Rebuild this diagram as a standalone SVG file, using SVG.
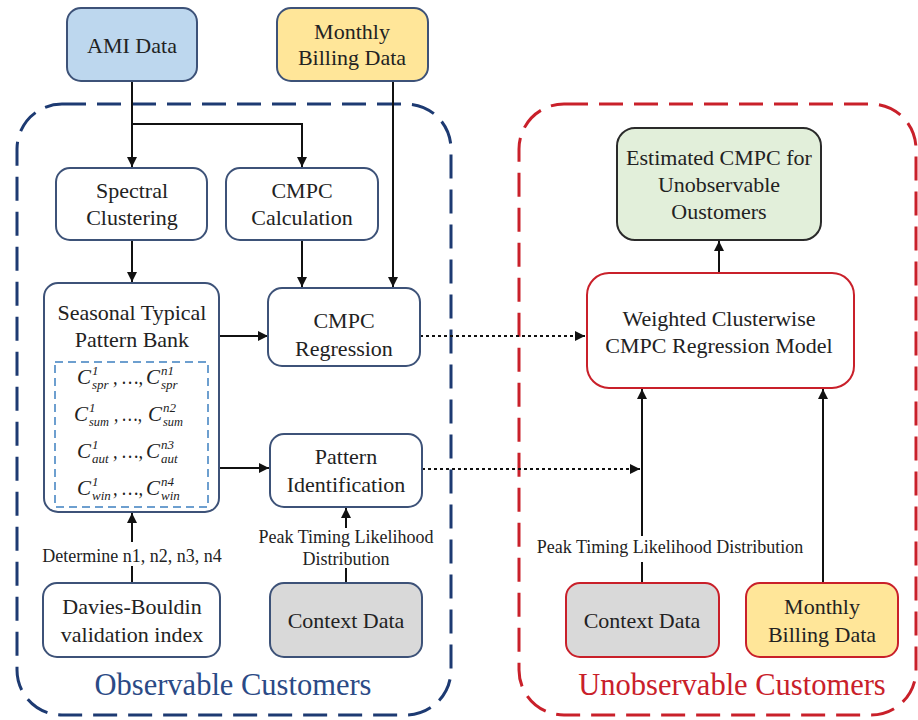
<svg xmlns="http://www.w3.org/2000/svg" width="918" height="720" viewBox="0 0 918 720">
  <style>
    .node { fill: #ffffff; stroke: #3d5278; stroke-width: 2; }
    .rnode { stroke: #c9202a; stroke-width: 2; }
    .lbl { font-family: "Liberation Serif", "Times New Roman", serif; font-size: 22px; fill: #222222; text-anchor: middle; }
    .small { font-family: "Liberation Serif", "Times New Roman", serif; font-size: 18px; fill: #222222; text-anchor: middle; }
    .math { font-family: "Liberation Serif", "Times New Roman", serif; font-style: italic; font-size: 21px; fill: #222222; }
    .scr { font-size: 13px; }
    .wire { fill: none; stroke: #111111; stroke-width: 2; }
    .dot { fill: none; stroke: #111111; stroke-width: 2; stroke-dasharray: 3 3; }
  </style>
  <defs>
    <marker id="arr" viewBox="0 0 10 10" refX="10" refY="5" markerWidth="10" markerHeight="10" markerUnits="userSpaceOnUse" orient="auto">
      <path d="M0,0 L10,5 L0,10 z" fill="#111111"/>
    </marker>
  </defs>

  <rect width="918" height="720" fill="#ffffff"/>

  <!-- group frames -->
  <g id="observable-group">
    <rect x="17" y="104" width="434" height="611" rx="45" fill="none" stroke="#1d3a72" stroke-width="3" stroke-dasharray="24 11"/>
    <text x="233" y="695" text-anchor="middle" font-family="Liberation Serif, serif" font-size="30.5" fill="#2b4a86">Observable Customers</text>
  </g>
  <g id="unobservable-group">
    <rect x="519" y="104" width="397" height="611" rx="45" fill="none" stroke="#c9202a" stroke-width="3" stroke-dasharray="24 11"/>
    <text x="732" y="695" text-anchor="middle" font-family="Liberation Serif, serif" font-size="30.5" fill="#c9202a">Unobservable Customers</text>
  </g>

  <!-- connectors -->
  <g id="connectors">
    <path class="wire" d="M132,81 V167" marker-end="url(#arr)"/>
    <path class="wire" d="M132,124 H302 V167" marker-end="url(#arr)"/>
    <path class="wire" d="M393,81 V287" marker-end="url(#arr)"/>
    <path class="wire" d="M302,240 V287" marker-end="url(#arr)"/>
    <path class="wire" d="M132,240 V282" marker-end="url(#arr)"/>
    <path class="wire" d="M219,336 H268" marker-end="url(#arr)"/>
    <path class="wire" d="M219,468 H269" marker-end="url(#arr)"/>
    <path class="wire" d="M132,583 V566"/>
    <path class="wire" d="M132,542 V513" marker-end="url(#arr)"/>
    <path class="wire" d="M346,583 V568"/>
    <path class="wire" d="M346,528 V508" marker-end="url(#arr)"/>
    <path class="dot" d="M420,336 H585" marker-end="url(#arr)"/>
    <path class="dot" d="M422,469 H640" marker-end="url(#arr)"/>
    <path class="wire" d="M719,273 V241" marker-end="url(#arr)"/>
    <path class="wire" d="M642,583 V562"/>
    <path class="wire" d="M642,536 V389" marker-end="url(#arr)"/>
    <path class="wire" d="M823,583 V389" marker-end="url(#arr)"/>
    <text class="small" x="132" y="562">Determine n1, n2, n3, n4</text>
    <text class="small" x="346" y="543">Peak Timing Likelihood</text>
    <text class="small" x="346" y="565">Distribution</text>
    <text class="small" x="670" y="553">Peak Timing Likelihood Distribution</text>
  </g>

  <!-- nodes -->
  <g id="ami-data">
    <rect class="node" x="67" y="8" width="130" height="73" rx="14" style="fill:#bdd7ee"/>
    <text class="lbl" x="132" y="53">AMI Data</text>
  </g>
  <g id="monthly-billing-obs">
    <rect class="node" x="277" y="8" width="151" height="73" rx="14" style="fill:#ffe699"/>
    <text class="lbl" x="352" y="39">Monthly</text>
    <text class="lbl" x="352" y="65">Billing Data</text>
  </g>
  <g id="spectral-clustering">
    <rect class="node" x="56" y="168" width="151" height="72" rx="14"/>
    <text class="lbl" x="132" y="198">Spectral</text>
    <text class="lbl" x="132" y="225">Clustering</text>
  </g>
  <g id="cmpc-calculation">
    <rect class="node" x="226" y="168" width="152" height="72" rx="14"/>
    <text class="lbl" x="302" y="198">CMPC</text>
    <text class="lbl" x="302" y="225">Calculation</text>
  </g>
  <g id="pattern-bank">
    <rect class="node" x="44" y="283" width="175" height="229" rx="14"/>
    <text class="lbl" x="132" y="320">Seasonal Typical</text>
    <text class="lbl" x="132" y="347">Pattern Bank</text>
    <rect x="55" y="362" width="153" height="145" fill="none" stroke="#6d9fcf" stroke-width="2" stroke-dasharray="8 5"/>
    <text class="math" y="384"><tspan x="77">C</tspan><tspan class="scr" x="92" dy="-9">1</tspan><tspan class="scr" x="92" dy="14">spr</tspan><tspan x="113" dy="-5" textLength="30" lengthAdjust="spacingAndGlyphs">, …,</tspan><tspan x="146">C</tspan><tspan class="scr" x="161" dy="-9">n1</tspan><tspan class="scr" x="161" dy="14">spr</tspan></text>
    <text class="math" y="421"><tspan x="74">C</tspan><tspan class="scr" x="89" dy="-9">1</tspan><tspan class="scr" x="89" dy="14" textLength="20" lengthAdjust="spacingAndGlyphs">sum</tspan><tspan x="114" dy="-5" textLength="28" lengthAdjust="spacingAndGlyphs">, …,</tspan><tspan x="148">C</tspan><tspan class="scr" x="163" dy="-9">n2</tspan><tspan class="scr" x="163" dy="14" textLength="20" lengthAdjust="spacingAndGlyphs">sum</tspan></text>
    <text class="math" y="458"><tspan x="77">C</tspan><tspan class="scr" x="92" dy="-9">1</tspan><tspan class="scr" x="92" dy="14">aut</tspan><tspan x="113" dy="-5" textLength="30" lengthAdjust="spacingAndGlyphs">, …,</tspan><tspan x="146">C</tspan><tspan class="scr" x="161" dy="-9">n3</tspan><tspan class="scr" x="161" dy="14">aut</tspan></text>
    <text class="math" y="495"><tspan x="77">C</tspan><tspan class="scr" x="92" dy="-9">1</tspan><tspan class="scr" x="92" dy="14">win</tspan><tspan x="113" dy="-5" textLength="30" lengthAdjust="spacingAndGlyphs">, …,</tspan><tspan x="146">C</tspan><tspan class="scr" x="161" dy="-9">n4</tspan><tspan class="scr" x="161" dy="14">win</tspan></text>
  </g>
  <g id="cmpc-regression">
    <rect class="node" x="268" y="288" width="152" height="78" rx="14"/>
    <text class="lbl" x="344" y="328">CMPC</text>
    <text class="lbl" x="344" y="356">Regression</text>
  </g>
  <g id="pattern-identification">
    <rect class="node" x="270" y="434" width="152" height="73" rx="14"/>
    <text class="lbl" x="346" y="464">Pattern</text>
    <text class="lbl" x="346" y="492">Identification</text>
  </g>
  <g id="davies-bouldin">
    <rect class="node" x="43" y="583" width="177" height="74" rx="14"/>
    <text class="lbl" x="132" y="614">Davies-Bouldin</text>
    <text class="lbl" x="132" y="642">validation index</text>
  </g>
  <g id="context-data-obs">
    <rect class="node" x="270" y="583" width="152" height="74" rx="14" style="fill:#d9d9d9"/>
    <text class="lbl" x="346" y="628">Context Data</text>
  </g>
  <g id="estimated-cmpc">
    <rect class="node" x="617" y="128" width="204" height="112" rx="18" style="fill:#e2efda;stroke:#2a2a2a"/>
    <text class="lbl" x="719" y="165">Estimated CMPC for</text>
    <text class="lbl" x="719" y="192">Unobservable</text>
    <text class="lbl" x="719" y="219">Oustomers</text>
  </g>
  <g id="weighted-model">
    <rect class="node rnode" x="587" y="273" width="267" height="115" rx="22"/>
    <text class="lbl" x="719" y="326">Weighted Clusterwise</text>
    <text class="lbl" x="719" y="353">CMPC Regression Model</text>
  </g>
  <g id="context-data-unobs">
    <rect class="node rnode" x="566" y="583" width="153" height="74" rx="14" style="fill:#d9d9d9"/>
    <text class="lbl" x="642" y="628">Context Data</text>
  </g>
  <g id="monthly-billing-unobs">
    <rect class="node rnode" x="746" y="583" width="152" height="74" rx="14" style="fill:#ffe699"/>
    <text class="lbl" x="822" y="614">Monthly</text>
    <text class="lbl" x="822" y="642">Billing Data</text>
  </g>
</svg>
